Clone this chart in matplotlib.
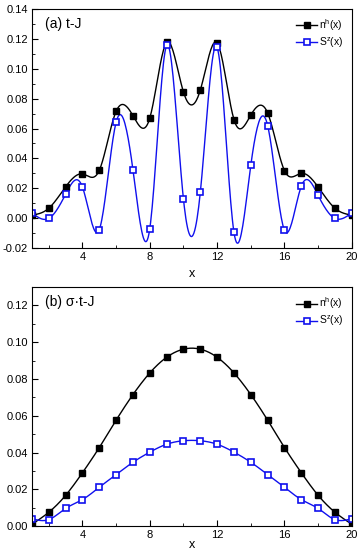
import numpy as np
import matplotlib.pyplot as plt
from matplotlib.ticker import MultipleLocator

plt.rcParams['font.family'] = ['Liberation Sans', 'DejaVu Sans']
plt.rcParams['mathtext.fontset'] = 'custom'
plt.rcParams['mathtext.rm'] = 'Liberation Sans'

# site index
x = np.arange(1, 21)

# (a) t-J
nh_a = [0.002, 0.0066, 0.021, 0.0296, 0.032, 0.0715, 0.0686, 0.067, 0.1176, 0.0844,
        0.0857, 0.1173, 0.066, 0.069, 0.0704, 0.0318, 0.030, 0.0208, 0.0066, 0.002]
sz_a = [0.0035, -0.0002, 0.016, 0.0208, -0.0077, 0.0642, 0.0323, -0.007, 0.1156, 0.0126,
        0.0172, 0.1143, -0.0095, 0.0354, 0.062, -0.0082, 0.0214, 0.0152, -0.0002, 0.0035]

# (b) sigma t-J
nh_b = [0.001, 0.0075, 0.0167, 0.029, 0.0427, 0.0576, 0.0715, 0.0833, 0.0918, 0.0962,
        0.0962, 0.0918, 0.0833, 0.0715, 0.0576, 0.0427, 0.029, 0.0167, 0.0075, 0.001]
sz_b = [0.004, 0.0035, 0.0096, 0.0144, 0.0211, 0.028, 0.0347, 0.0402, 0.0445, 0.0464,
        0.0464, 0.0445, 0.0402, 0.0347, 0.028, 0.0211, 0.0144, 0.0096, 0.0035, 0.004]

BLUE = '#1010ee'


def spline(xs, ys, n=400):
    # natural cubic spline, like the smooth line in Origin
    xs = np.asarray(xs, float)
    ys = np.asarray(ys, float)
    m = len(xs)
    h = np.diff(xs)
    A = np.zeros((m, m))
    r = np.zeros(m)
    A[0, 0] = A[-1, -1] = 1
    for i in range(1, m - 1):
        A[i, i - 1] = h[i - 1]
        A[i, i] = 2 * (h[i - 1] + h[i])
        A[i, i + 1] = h[i]
        r[i] = 3 * ((ys[i + 1] - ys[i]) / h[i] - (ys[i] - ys[i - 1]) / h[i - 1])
    c = np.linalg.solve(A, r)
    b = np.diff(ys) / h - h * (2 * c[:-1] + c[1:]) / 3
    d = np.diff(c) / (3 * h)
    xx = np.linspace(xs[0], xs[-1], n)
    k = np.clip(np.searchsorted(xs, xx) - 1, 0, m - 2)
    t = xx - xs[k]
    return xx, ys[k] + b[k] * t + c[k] * t ** 2 + d[k] * t ** 3


def panel(ax, nh, sz, label, ylim, ymaj, xpad):
    xx, yy = spline(x, nh)
    ax.plot(xx, yy, color='black', lw=1.0)
    xx, yy = spline(x, sz)
    ax.plot(xx, yy, color=BLUE, lw=1.0)
    ax.plot(x, nh, ls='none', marker='s', ms=5, color='black')
    ax.plot(x, sz, ls='none', marker='s', ms=4.5, mfc='white', mec=BLUE, mew=1.2)
    h1, = ax.plot([], [], color='black', lw=1.0, marker='s', ms=5)
    h2, = ax.plot([], [], color=BLUE, lw=1.0, marker='s', ms=4.5, mfc='white', mec=BLUE, mew=1.2)
    ax.legend([h1, h2], [r'n$^\mathregular{h}$(x)', r'S$^\mathregular{z}$(x)'],
              loc='upper right', frameon=False, fontsize=7.5, handlelength=2.0,
              handletextpad=0.2, labelspacing=0.25, borderaxespad=0.4)
    ax.text(0.04, 0.965, label, transform=ax.transAxes, fontsize=10, va='top')
    ax.set_xlim(1, 20)
    ax.set_ylim(*ylim)
    ax.xaxis.set_major_locator(MultipleLocator(4))
    ax.xaxis.set_minor_locator(MultipleLocator(2))
    ax.yaxis.set_major_locator(MultipleLocator(ymaj))
    ax.yaxis.set_minor_locator(MultipleLocator(ymaj / 2))
    ax.yaxis.set_major_formatter(plt.FuncFormatter(lambda v, p: f'{v:.2f}'))
    ax.tick_params(which='both', direction='in', labelsize=8, pad=3)
    ax.tick_params(which='major', length=4)
    ax.tick_params(which='minor', length=2)
    ax.set_xlabel('x', fontsize=9, labelpad=xpad)


fig = plt.figure(figsize=(3.59, 5.52), dpi=100)
ax1 = fig.add_axes([0.089, 0.5507, 0.891, 0.433])
ax2 = fig.add_axes([0.089, 0.047, 0.891, 0.433])

panel(ax1, nh_a, sz_a, '(a) t-J', (-0.02, 0.14), 0.02, 4)
panel(ax2, nh_b, sz_b, '(b) σ·t-J', (0.0, 0.13), 0.02, -1)

fig.savefig('out.png', dpi=100)
